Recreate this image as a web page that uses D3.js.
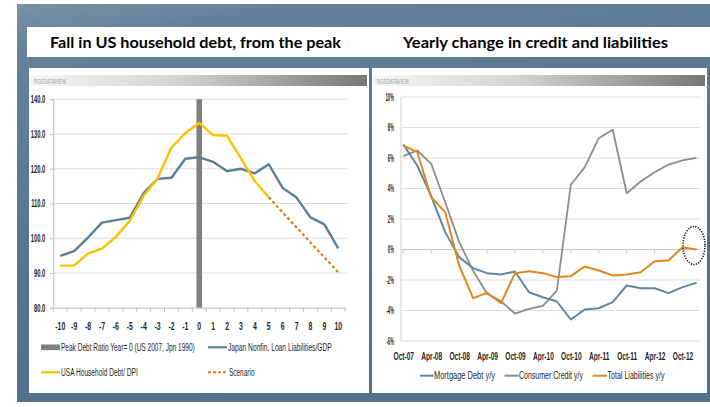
<!DOCTYPE html>
<html>
<head>
<meta charset="utf-8">
<script src="https://cdn.jsdelivr.net/npm/d3@7"></script>
<style>
  html, body { margin: 0; padding: 0; background: #ffffff; }
  svg { display: block; }
  .narrow { font-family: "Liberation Sans Narrow", "Liberation Sans", "Arimo", sans-serif; fill: #1f1f1f; }
  .title { font-family: "Lato", "Open Sans", sans-serif; font-weight: 700; font-size: 15.5px; fill: #000; }
</style>
</head>
<body>
<svg id="chart" width="710" height="407"></svg>
<script>
// ---- Left chart: debt ratios around the peak year ----
const yearsFromPeak = [-10, -9, -8, -7, -6, -5, -4, -3, -2, -1, 0, 1, 2, 3, 4, 5, 6, 7, 8, 9, 10];
const japanLoanGdp = [94.9, 96.3, 100.2, 104.5, 105.2, 105.9, 113.0, 117.1, 117.4, 122.9, 123.3,
                      122.0, 119.3, 120.0, 118.7, 121.3, 114.5, 111.7, 106.0, 104.0, 97.1];
const usaDebtDpi = [92.1, 92.2, 95.6, 97.0, 100.4, 105.0, 112.2, 117.2, 126.1, 130.3, 133.2,
                    129.7, 129.5, 123.0, 116.4, 111.8];
const scenarioYears = [5, 6, 7, 8, 9, 10];
const scenarioValues = [111.8, 107.4, 103.1, 98.8, 94.5, 90.2];
const peakYear = 0;
const leftTicks = [80, 90, 100, 110, 120, 130, 140];

// ---- Right chart: year-over-year change, quarterly ----
const quarters = ["Oct-07", "Jan-08", "Apr-08", "Jul-08", "Oct-08", "Jan-09", "Apr-09", "Jul-09",
                  "Oct-09", "Jan-10", "Apr-10", "Jul-10", "Oct-10", "Jan-11", "Apr-11", "Jul-11",
                  "Oct-11", "Jan-12", "Apr-12", "Jul-12", "Oct-12", "Jan-13"];
const mortgageDebt = [6.89, 5.51, 3.5, 1.14, -0.5, -1.22, -1.55, -1.64, -1.44, -2.8, -3.13, -3.41,
                      -4.59, -3.93, -3.85, -3.45, -2.36, -2.54, -2.54, -2.86, -2.47, -2.19];
const consumerCredit = [6.12, 6.49, 5.62, 3.1, 0.5, -1.4, -2.9, -3.4, -4.2, -3.9, -3.7, -2.69,
                        4.25, 5.4, 7.3, 7.85, 3.69, 4.46, 5.07, 5.57, 5.84, 6.01];
const totalLiabilities = [6.82, 6.38, 3.43, 2.45, -1.05, -3.19, -2.84, -3.52, -1.55, -1.42, -1.55, -1.81,
                          -1.75, -1.11, -1.38, -1.7, -1.64, -1.49, -0.77, -0.72, 0.15, 0.0];
const rightTicks = [-6, -4, -2, 0, 2, 4, 6, 8, 10];
const rightTickLabels = ["Oct-07", "Apr-08", "Oct-08", "Apr-09", "Oct-09", "Apr-10",
                         "Oct-10", "Apr-11", "Oct-11", "Apr-12", "Oct-12"];

const svg = d3.select("#chart");
const defs = svg.append("defs");

// Condense axis labels: k is chosen so that the sample label ends up `target` px wide.
function condense(sel, sample, target) {
  let natural = 0;
  sel.each(function () { if (this.textContent === sample) natural = this.getComputedTextLength(); });
  const k = natural > 0 ? target / natural : 0.6;
  sel.each(function () {
    const t = d3.select(this);
    const x = +t.attr("x") || 0;
    t.attr("x", x / k).attr("transform", `scale(${k},1)`);
  });
}
// Free-standing condensed text of a given width, starting at x.
function narrowText(g, x, y, width, size, str) {
  const t = g.append("text").attr("class", "narrow").attr("y", y).attr("font-size", size).text(str);
  const k = width / t.node().getComputedTextLength();
  t.attr("x", x / k).attr("transform", `scale(${k},1)`);
  return t;
}

// slate-blue backdrop
const bg = defs.append("linearGradient").attr("id", "bgGrad")
  .attr("x1", 0).attr("y1", 0).attr("x2", 0.3).attr("y2", 1);
bg.append("stop").attr("offset", "0").attr("stop-color", "#7a91a7");
bg.append("stop").attr("offset", "0.12").attr("stop-color", "#64809a");
bg.append("stop").attr("offset", "0.6").attr("stop-color", "#58758f");
bg.append("stop").attr("offset", "1").attr("stop-color", "#52708b");
svg.append("rect").attr("x", 17).attr("y", 4).attr("width", 693).attr("height", 398)
  .attr("fill", "url(#bgGrad)");

// header strip gradient
const hg = defs.append("linearGradient").attr("id", "hdrGrad");
hg.append("stop").attr("offset", "0").attr("stop-color", "#f6f6f6");
hg.append("stop").attr("offset", "0.45").attr("stop-color", "#d2d2d2");
hg.append("stop").attr("offset", "1").attr("stop-color", "#777777");

// title band
svg.append("rect").attr("x", 27).attr("y", 27).attr("width", 683).attr("height", 30).attr("fill", "#fff");
svg.append("text").attr("class", "title").attr("x", 50).attr("y", 47.5)
  .attr("textLength", 291).attr("lengthAdjust", "spacingAndGlyphs")
  .text("Fall in US household debt, from the peak");
svg.append("text").attr("class", "title").attr("x", 403).attr("y", 47.5)
  .attr("textLength", 265).attr("lengthAdjust", "spacingAndGlyphs")
  .text("Yearly change in credit and liabilities");

// panels
function panel(x, w) {
  svg.append("rect").attr("x", x).attr("y", 68).attr("width", w).attr("height", 325).attr("fill", "#fff");
  svg.append("rect").attr("x", x + 1).attr("y", 75).attr("width", w - 3).attr("height", 11)
    .attr("fill", "url(#hdrGrad)");
  narrowText(svg, x + 5, 83.8, 32, 8, "RGEDATAVIEW").style("fill", "#a0a0a0");
}
panel(29, 340);
panel(372, 335);

// ================= Left chart =================
const xL = d3.scaleBand().domain(yearsFromPeak).range([53.3, 345.2]);
const cx = v => xL(v) + xL.bandwidth() / 2;
const yL = d3.scaleLinear().domain([80, 140]).range([307.7, 99.3]);

const gL = svg.append("g");
gL.selectAll(".gridL").data(leftTicks.filter(t => t > 80)).join("line")
  .attr("x1", 53.3).attr("x2", 347).attr("y1", d => yL(d)).attr("y2", d => yL(d))
  .attr("stroke", "#dcdcdc").attr("stroke-width", 1);

const axYL = gL.append("g").attr("transform", "translate(53.3,0)")
  .call(d3.axisLeft(yL).tickValues(leftTicks).tickFormat(d3.format(".1f")).tickSize(3).tickPadding(5));
axYL.select(".domain").attr("stroke", "#bdbdbd");
axYL.selectAll(".tick line").attr("stroke", "#bdbdbd");
axYL.selectAll("text").attr("class", "narrow").attr("font-size", 10.5).style("font-weight", "bold");
condense(axYL.selectAll("text"), "140.0", 14.5);

const axXL = gL.append("g").attr("transform", `translate(0,${yL(80)})`)
  .call(d3.axisBottom(xL).tickSize(0).tickPadding(14));
axXL.select(".domain").attr("stroke", "#bdbdbd");
axXL.selectAll("text").attr("class", "narrow").attr("font-size", 11.5).style("font-weight", "bold");
condense(axXL.selectAll("text"), "-10", 10);
// tick marks between categories
gL.selectAll(".tkL").data(yearsFromPeak.concat([11])).join("line")
  .attr("x1", (d, i) => 53.3 + i * xL.bandwidth()).attr("x2", (d, i) => 53.3 + i * xL.bandwidth())
  .attr("y1", yL(80)).attr("y2", yL(80) + 4).attr("stroke", "#bdbdbd");

// peak-year bar
gL.append("rect").attr("x", cx(peakYear) - 2.8).attr("width", 5.6)
  .attr("y", yL(140)).attr("height", yL(80) - yL(140)).attr("fill", "#7f7f7f");

const lineL = d3.line().x((d, i) => cx(yearsFromPeak[i])).y(d => yL(d));
gL.append("path").datum(japanLoanGdp).attr("d", lineL)
  .attr("fill", "none").attr("stroke", "#5a7f97").attr("stroke-width", 2.4).attr("stroke-linejoin", "round");
gL.append("path").datum(usaDebtDpi).attr("d", lineL)
  .attr("fill", "none").attr("stroke", "#ffc000").attr("stroke-width", 2.4).attr("stroke-linejoin", "round");
gL.append("path").datum(scenarioValues)
  .attr("d", d3.line().x((d, i) => cx(scenarioYears[i])).y(d => yL(d)))
  .attr("fill", "none").attr("stroke", "#dc7d12").attr("stroke-width", 2.2).attr("stroke-dasharray", "3,2.5");

// left legend
const legL = svg.append("g");
legL.append("rect").attr("x", 41).attr("y", 344.5).attr("width", 19).attr("height", 5.6).attr("fill", "#7f7f7f");
narrowText(legL, 61, 351, 134, 11, "Peak Debt Ratio Year= 0  (US 2007, Jpn 1990)");
legL.append("line").attr("x1", 208).attr("x2", 227).attr("y1", 347.3).attr("y2", 347.3)
  .attr("stroke", "#5a7f97").attr("stroke-width", 2.2);
narrowText(legL, 228, 351, 104, 11, "Japan Nonfin. Loan Liabilities/GDP");
legL.append("line").attr("x1", 41).attr("x2", 60).attr("y1", 372.3).attr("y2", 372.3)
  .attr("stroke", "#ffc000").attr("stroke-width", 2.2);
narrowText(legL, 61, 376, 77, 11, "USA Household Debt/ DPI");
legL.append("line").attr("x1", 208).attr("x2", 227).attr("y1", 372.3).attr("y2", 372.3)
  .attr("stroke", "#dc7d12").attr("stroke-width", 2).attr("stroke-dasharray", "3,2");
narrowText(legL, 229, 376, 25.5, 11, "Scenario");

// ================= Right chart =================
const xR = d3.scalePoint().domain(quarters).range([403.3, 696.5]);
const yR = d3.scaleLinear().domain([-6, 10]).range([341, 97]);

const gR = svg.append("g");
gR.selectAll(".gridR").data(rightTicks).join("line")
  .attr("x1", 401).attr("x2", 700).attr("y1", d => yR(d)).attr("y2", d => yR(d))
  .attr("stroke", "#dcdcdc").attr("stroke-width", 1);
gR.append("line").attr("x1", 401).attr("x2", 401).attr("y1", yR(10)).attr("y2", yR(-6))
  .attr("stroke", "#d0d0d0");
// zero line with half-year ticks
gR.append("line").attr("x1", 401).attr("x2", 700).attr("y1", yR(0)).attr("y2", yR(0))
  .attr("stroke", "#c8c8c8");
gR.selectAll(".tkR").data(rightTickLabels).join("line")
  .attr("x1", d => xR(d)).attr("x2", d => xR(d)).attr("y1", yR(0)).attr("y2", yR(0) + 4)
  .attr("stroke", "#c8c8c8");

const axYR = gR.append("g").attr("transform", "translate(401,0)")
  .call(d3.axisLeft(yR).tickValues(rightTicks).tickFormat(d => d + "%").tickSize(0).tickPadding(7));
axYR.select(".domain").remove();
axYR.selectAll("text").attr("class", "narrow").attr("font-size", 10).style("font-weight", "bold");
condense(axYR.selectAll("text"), "10%", 8.5);

const axXR = gR.append("g").attr("transform", `translate(0,${yR(-6)})`)
  .call(d3.axisBottom(xR).tickValues(rightTickLabels).tickSize(0).tickPadding(11));
axXR.select(".domain").remove();
axXR.selectAll("text").attr("class", "narrow").attr("font-size", 11).style("font-weight", "bold");
condense(axXR.selectAll("text"), "Oct-07", 20.5);

const lineR = d3.line().x((d, i) => xR(quarters[i])).y(d => yR(d));
gR.append("path").datum(consumerCredit).attr("d", lineR)
  .attr("fill", "none").attr("stroke", "#8c8c8c").attr("stroke-width", 1.8).attr("stroke-linejoin", "round");
gR.append("path").datum(mortgageDebt).attr("d", lineR)
  .attr("fill", "none").attr("stroke", "#5f88a4").attr("stroke-width", 2).attr("stroke-linejoin", "round");
gR.append("path").datum(totalLiabilities).attr("d", lineR)
  .attr("fill", "none").attr("stroke", "#e3861b").attr("stroke-width", 2).attr("stroke-linejoin", "round");

// dotted ring around the latest readings
const n = quarters.length;
gR.append("ellipse")
  .attr("cx", (xR(quarters[n - 2]) + xR(quarters[n - 1])) / 2 + 4.5)
  .attr("cy", yR(totalLiabilities[n - 1]) - 4)
  .attr("rx", 11).attr("ry", 19)
  .attr("fill", "none").attr("stroke", "#111").attr("stroke-width", 1.6).attr("stroke-dasharray", "1.2,1.4");

// right legend
const legR = svg.append("g");
const legItems = [
  { label: "Mortgage Debt y/y", color: "#5f88a4", x0: 420, tx: 434, w: 61 },
  { label: "Consumer Credit y/y", color: "#8c8c8c", x0: 504.5, tx: 519, w: 64 },
  { label: "Total Liabilities y/y", color: "#e3861b", x0: 592.5, tx: 607.5, w: 57 }
];
legItems.forEach(it => {
  legR.append("line").attr("x1", it.x0).attr("x2", it.tx - 0.5).attr("y1", 375.7).attr("y2", 375.7)
    .attr("stroke", it.color).attr("stroke-width", 2);
  narrowText(legR, it.tx, 379.5, it.w, 11, it.label);
});
</script>
</body>
</html>
